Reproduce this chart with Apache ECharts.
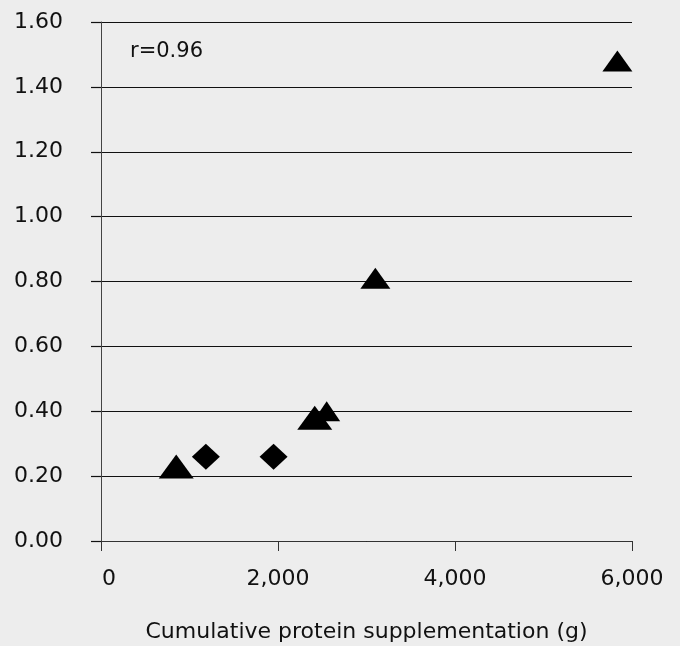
<!DOCTYPE html>
<html>
<head>
<meta charset="utf-8">
<script src="https://cdn.jsdelivr.net/npm/echarts@6/dist/echarts.min.js"></script>
<style>
  html, body { margin: 0; padding: 0; background: #ededed; }
  #chart { width: 680px; height: 646px; }
</style>
</head>
<body>
<div id="chart"></div>
<script>
// Protein supplementation vs. response
const triangleX = [850, 2415, 2550, 3100, 5835];
const triangleY = [0.23, 0.38, 0.40, 0.81, 1.48];
const diamondX = [1185, 1950];
const diamondY = [0.26, 0.26];
const xTicks = [0, 2000, 4000, 6000];
const yTicks = [0, 0.2, 0.4, 0.6, 0.8, 1.0, 1.2, 1.4, 1.6];
const xAxisTitle = 'Cumulative protein supplementation (g)';
const correlationText = 'r=0.96';

// marker sizes (width, height) per point
const triangleSizes = [[35, 24], [35, 24], [27, 20], [30, 21], [30, 21]];
const diamondSizes = [[28, 26], [28, 26]];

const FONT = 'DejaVu Sans';
const INK = '#111';

const chart = echarts.init(document.getElementById('chart'), null, { renderer: 'canvas' });

chart.setOption({
  backgroundColor: '#ededed',
  animation: false,
  grid: { left: 101, right: 48, top: 22, bottom: 105, outerBoundsMode: 'none', containLabel: false },
  xAxis: {
    type: 'value',
    min: xTicks[0],
    max: xTicks[xTicks.length - 1],
    interval: xTicks[1] - xTicks[0],
    name: xAxisTitle,
    nameLocation: 'middle',
    nameGap: 80,
    nameTextStyle: { fontFamily: FONT, fontSize: 22, color: INK },
    axisLine: { show: true, lineStyle: { color: '#333', width: 1 } },
    axisTick: { show: true, length: 10, lineStyle: { color: '#333', width: 1 } },
    splitLine: { show: false },
    axisLabel: {
      margin: 27,
      fontFamily: FONT,
      fontSize: 22,
      color: INK,
      formatter: v => v === 0 ? '{z|0}' : v.toLocaleString('en-US'),
      rich: { z: { fontFamily: FONT, fontSize: 22, color: INK, padding: [0, 0, 0, 16] } }
    }
  },
  yAxis: {
    type: 'value',
    min: yTicks[0],
    max: yTicks[yTicks.length - 1],
    interval: 0.2,
    axisLine: { show: true, lineStyle: { color: '#444', width: 1 } },
    axisTick: { show: true, length: 10, lineStyle: { color: '#111', width: 1.2 } },
    splitLine: { show: true, lineStyle: { color: '#111', width: 1.2 } },
    axisLabel: {
      margin: 87,
      align: 'left',
      fontFamily: FONT,
      fontSize: 22,
      color: INK,
      formatter: v => v.toFixed(2)
    }
  },
  graphic: [{
    type: 'text',
    left: 130,
    top: 41,
    style: { text: correlationText, fontFamily: FONT, fontSize: 21, fill: INK }
  }],
  series: [
    {
      type: 'scatter',
      symbol: 'diamond',
      data: diamondX.map((x, i) => [x, diamondY[i]]),
      symbolSize: (val, p) => diamondSizes[p.dataIndex],
      itemStyle: { color: '#000', opacity: 1 }
    },
    {
      type: 'scatter',
      symbol: 'triangle',
      data: triangleX.map((x, i) => [x, triangleY[i]]),
      symbolSize: (val, p) => triangleSizes[p.dataIndex],
      itemStyle: { color: '#000', opacity: 1 }
    }
  ]
});
</script>
</body>
</html>
